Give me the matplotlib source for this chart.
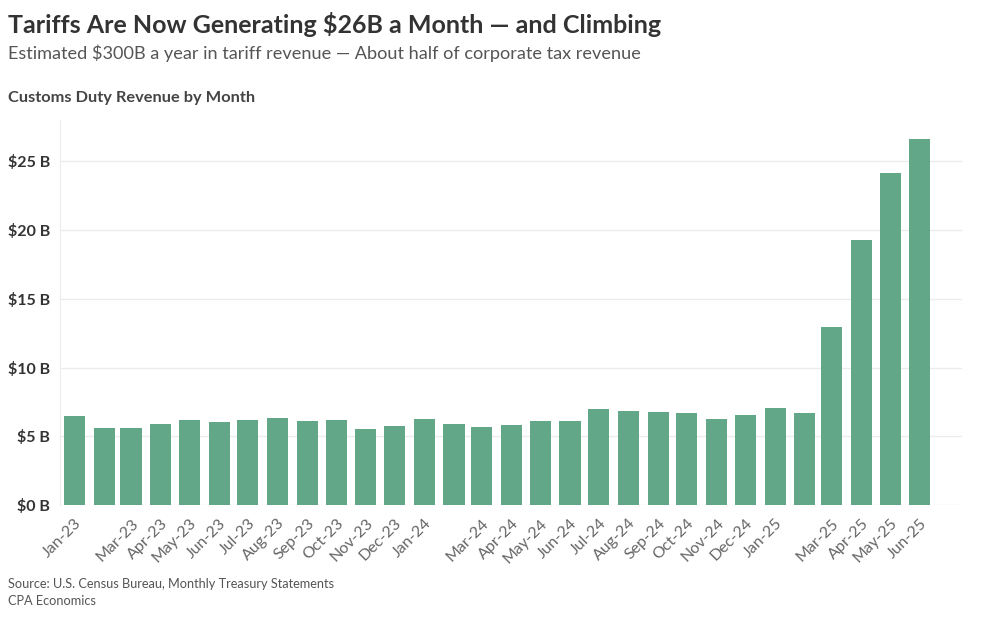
import pandas as pd
import matplotlib.pyplot as plt
import matplotlib.dates as mdates
import matplotlib.ticker as mticker

# data ($ billions per month)
months = ['Jan-23', 'Feb-23', 'Mar-23', 'Apr-23', 'May-23', 'Jun-23', 'Jul-23', 'Aug-23',
          'Sep-23', 'Oct-23', 'Nov-23', 'Dec-23', 'Jan-24', 'Feb-24', 'Mar-24', 'Apr-24',
          'May-24', 'Jun-24', 'Jul-24', 'Aug-24', 'Sep-24', 'Oct-24', 'Nov-24', 'Dec-24',
          'Jan-25', 'Feb-25', 'Mar-25', 'Apr-25', 'May-25', 'Jun-25']
revenue = [6.5, 5.63, 5.63, 5.9, 6.21, 6.04, 6.21, 6.33, 6.09, 6.16, 5.56, 5.75,
           6.28, 5.87, 5.7, 5.82, 6.11, 6.11, 7.0, 6.86, 6.74, 6.69, 6.23, 6.52,
           7.05, 6.72, 12.93, 19.24, 24.15, 26.6]
# February labels are not shown on the original axis
tick_labels = ['' if m.startswith('Feb') else m for m in months]
y_ticks = [0, 5, 10, 15, 20, 25]

dates = pd.to_datetime(months, format='%b-%y')

plt.rcParams['font.family'] = ['Lato', 'DejaVu Sans']

fig = plt.figure(figsize=(9.86, 6.17), dpi=100)
ax = fig.add_axes([0.0609, 0.1815, 0.9148, 0.624])

ax.bar(dates, revenue, width=22, color='#62a787', align='center', zorder=3)

ax.set_ylim(0, 28)
ax.set_yticks(y_ticks)
ax.yaxis.set_major_formatter(mticker.FuncFormatter(lambda v, p: f'${v:.0f} B'))
ax.set_xlim(pd.Timestamp('2022-12-17'), pd.Timestamp('2025-07-15'))
ax.set_xticks(dates)
ax.set_xticklabels(tick_labels, rotation=45, ha='right', va='top', rotation_mode='anchor')

ax.grid(axis='y', color='#ececec', linewidth=1, zorder=0)
for s in ['top', 'right', 'bottom']:
    ax.spines[s].set_visible(False)
ax.spines['left'].set_color('#ececec')
ax.tick_params(axis='y', length=0, pad=7, labelsize=11.5, labelcolor='#333333')
ax.tick_params(axis='x', length=0, pad=8, labelsize=11.5, labelcolor='#666666')
for lbl in ax.get_yticklabels():
    lbl.set_fontweight('bold')

fig.text(0.008, 0.9465, 'Tariffs Are Now Generating $26B a Month \u2014 and Climbing',
         fontsize=18, fontweight='bold', color='#333333', va='baseline')
fig.text(0.008, 0.9039, 'Estimated $300B a year in tariff revenue \u2014 About half of corporate tax revenue',
         fontsize=13.1, color='#555555', va='baseline')
fig.text(0.008, 0.8352, 'Customs Duty Revenue by Month',
         fontsize=11.8, fontweight='bold', color='#444444', va='baseline')
fig.text(0.008, 0.0462, 'Source: U.S. Census Bureau, Monthly Treasury Statements',
         fontsize=9.2, color='#555555', va='baseline')
fig.text(0.008, 0.0194, 'CPA Economics', fontsize=9.2, color='#555555', va='baseline')

fig.savefig('out.png', dpi=100)
